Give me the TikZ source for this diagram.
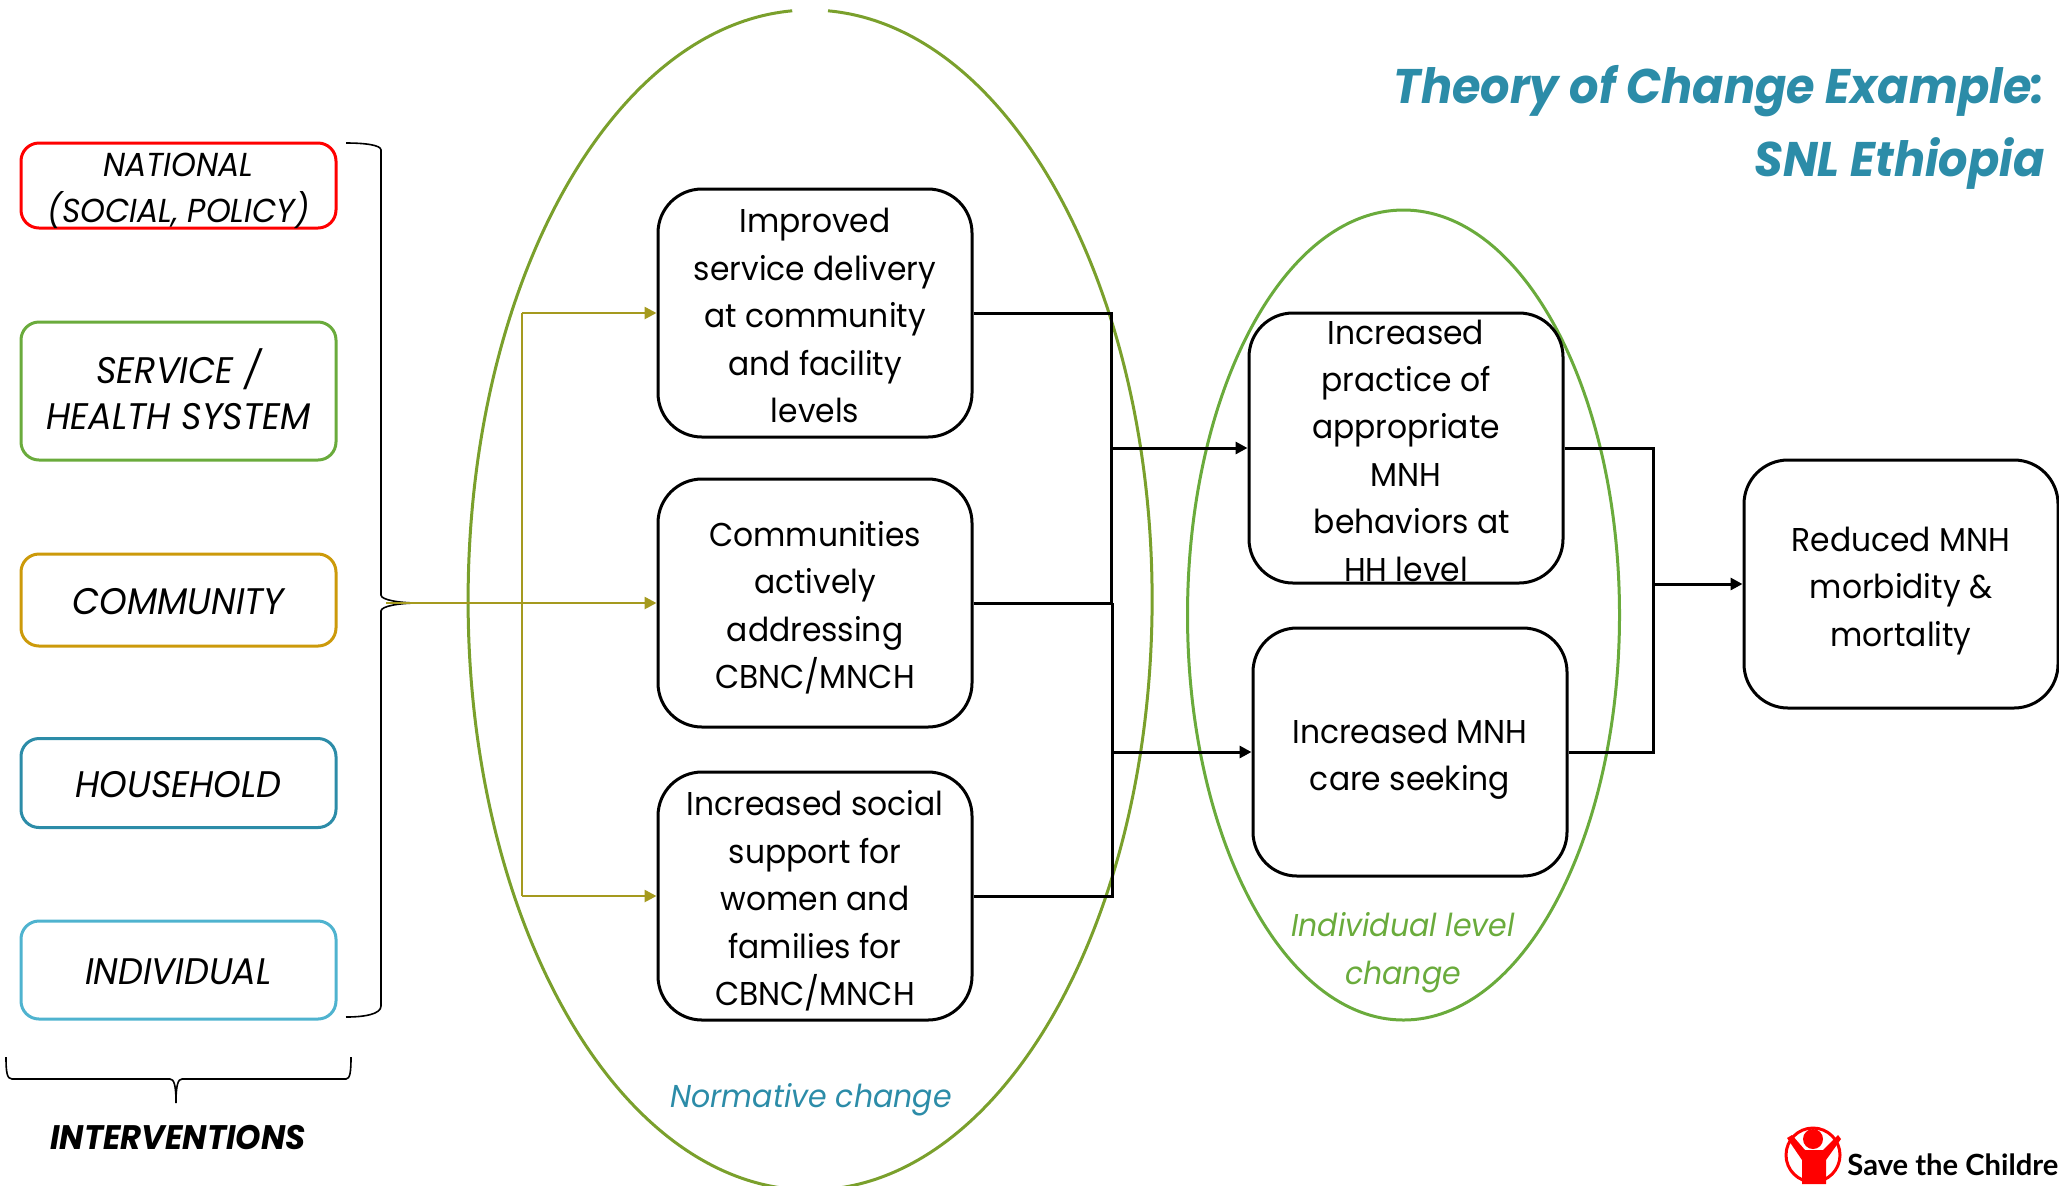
\documentclass[tikz,border=0pt]{standalone}
\usepackage{fontspec}
\setmainfont{Poppins}[FakeStretch=0.95]
\newfontfamily\logofont{Lato}
\usetikzlibrary{arrows.meta,calc}
\definecolor{cRed}{HTML}{FF0000}
\definecolor{cGreen}{HTML}{6AAB3C}
\definecolor{cOrange}{HTML}{CC9A0A}
\definecolor{cTeal}{HTML}{2C8CA8}
\definecolor{cSky}{HTML}{4FB3CF}
\definecolor{cOlive}{HTML}{A59A1E}
\definecolor{cMoss}{HTML}{7AA02C}
\newcommand{\cbox}[1]{\vbox to 0pt{\vss\vskip 5.2pt\hbox{\begin{tabular}{@{}c@{}}#1\end{tabular}}\vss}}
\tikzset{
  x=0.5pt,y=-0.5pt,
  level/.style={draw=#1,line width=1.5pt,rounded corners=9pt,inner sep=0pt,minimum width=157.5pt,align=center,
     font=\fontsize{18.5}{23}\selectfont\itshape},
  result/.style={draw=black,line width=1.5pt,rounded corners=22pt,inner sep=0pt,minimum width=157pt,minimum height=124pt,
     font=\fontsize{16.5}{23.7}\selectfont},
  conn/.style={draw=black,line width=1.5pt},
  arr/.style={draw=black,line width=1.5pt,-{Triangle[length=6pt,width=6pt]}},
  oarr/.style={draw=cOlive,line width=1.3pt,-{Triangle[length=6pt,width=6pt]}},
  oline/.style={draw=cOlive,line width=1.3pt},
  brace/.style={draw=black,line width=0.8pt},
  lab/.style={inner sep=0pt,font=\fontsize{15.8}{24.2}\selectfont\itshape},
}
\begin{document}
\begin{tikzpicture}
\path[use as bounding box] (0,0) rectangle (2059,1185);
% ellipses
\draw[cMoss,line width=1.5pt] (828,10.8) arc[start angle=-87,end angle=267,x radius=342,y radius=590];
\draw[cGreen,line width=1.5pt] (1403.5,210) arc[start angle=-90,end angle=270,x radius=216,y radius=405];
% level boxes
\node[level=cRed,minimum height=42.5pt] (national) at (178.5,185.5) {\cbox{\fontsize{16.6}{20.5}\selectfont NATIONAL\\\fontsize{16.6}{20.5}\selectfont (SOCIAL, POLICY)}};
\node[level=cGreen,minimum height=69pt] (service) at (178.5,391) {\cbox{SERVICE /\\HEALTH SYSTEM}};
\node[level=cOrange,minimum height=46pt] (community) at (178.5,600) {\cbox{COMMUNITY}};
\node[level=cTeal,minimum height=44.5pt] (household) at (178.5,783) {\cbox{HOUSEHOLD}};
\node[level=cSky,minimum height=49pt] (individual) at (178.5,970) {\cbox{INDIVIDUAL}};
% result boxes
\node[result] (improved) at (815,313) {\cbox{Improved\\service delivery\\at community\\and facility\\levels}};
\node[result] (communities) at (815,603) {\cbox{Communities\\actively\\addressing\\CBNC/MNCH}};
\node[result] (social) at (815,896) {\cbox{Increased social\\support for\\women and\\families for\\CBNC/MNCH}};
\node[result,minimum height=135pt] (practice) at (1406,448) {\cbox{Increased\\practice of\\appropriate\\MNH\\\hspace*{6pt}behaviors at\\HH level}};
\node[result] (seeking) at (1410,752) {\cbox{Increased MNH\\care seeking}};
\node[result] (reduced) at (1901,584) {\cbox{Reduced MNH\\morbidity \&\\mortality}};
% brace coordinates
\coordinate (tip) at (418,603);
\coordinate (jo) at (522,603);
\coordinate (jt) at (1111,603);
\coordinate (jb) at (1112,603);
\coordinate (ja) at (1111,448);
\coordinate (jc) at (1112,752);
\coordinate (jr) at (1653,584);
\coordinate (ostart) at (386,603);
% right brace
\draw[brace] (346,143) .. controls (365,143) and (381,145) .. (381,150) -- (381,595) .. controls (381,600) and (400,603) .. (tip) .. controls (400,603) and (381,606) .. (381,611) -- (381,1006) .. controls (381,1014) and (365,1017) .. (346,1017);
% bottom brace
\draw[brace] (6,1057) .. controls (6,1072) and (7,1079) .. (12,1079) -- (170,1079) .. controls (174,1079) and (176,1085) .. (176,1103) .. controls (176,1085) and (178,1079) .. (182,1079) -- (346,1079) .. controls (350,1079) and (351,1072) .. (351,1057);
\node[inner sep=0pt,font=\fontsize{17}{20}\selectfont\bfseries\itshape] (interv) at (178,1137) {INTERVENTIONS};
% olive connectors
\draw[oarr] (ostart) -- (communities.west);
\draw[oline] (jo |- improved.west) -- (jo |- social.west);
\draw[oarr] (jo |- improved.west) -- (improved.west);
\draw[oarr] (jo |- social.west) -- (social.west);
% black connectors
\draw[conn] (improved.east) -| (jt);
\draw[conn] (communities.east) -- (jb);
\draw[conn] (jb) -- (jb |- social.east) -- (social.east);
\draw[arr] (ja) -- (practice.west);
\draw[arr] (jc) -- (seeking.west);
\draw[conn] (practice.east) -| (jr);
\draw[conn] (seeking.east) -| (jr);
\draw[arr] (jr) -- (reduced.west);
% labels
\node[lab,text=cTeal] (normlabel) at (811,1100) {Normative change};
\node[lab,text=cGreen,align=center] (indlabel) at (1403,953) {Individual level\\change};
\node[inner sep=0pt,anchor=east,align=right,text=cTeal,font=\fontsize{24.3}{36.5}\selectfont\bfseries\itshape] (title) at (2045,127) {Theory of Change Example:\\SNL Ethiopia};
% logo
\draw[cRed,line width=1.5pt] (1813,1155) circle[radius=27];
\fill[cRed] (1813,1139) circle[radius=10];
\fill[cRed] (1787,1138) -- (1792,1135) -- (1805,1150) -- (1823,1150) -- (1838,1135) -- (1841,1139) -- (1826,1160) -- (1826,1184) -- (1802,1184) -- (1802,1160) -- cycle;
\node[anchor=base west,inner sep=0pt,font=\fontsize{14.6}{16}\logofont\bfseries] (logotext) at (1847,1175) {Save the Childre};
\end{tikzpicture}
\end{document}
